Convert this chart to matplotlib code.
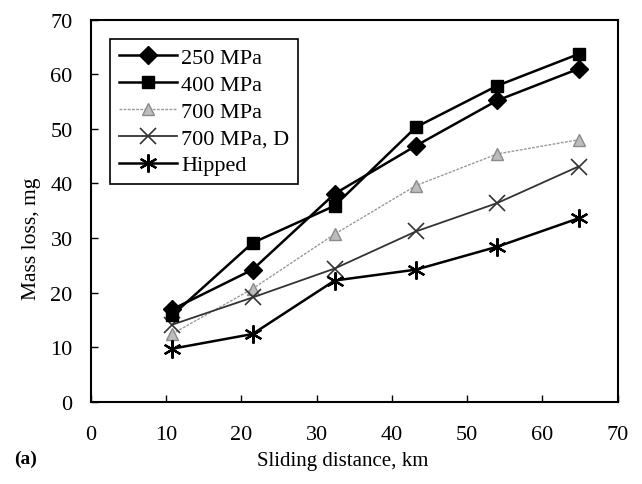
import matplotlib
matplotlib.use("Agg")
import matplotlib.pyplot as plt

distance = [10.8, 21.5, 32.4, 43.2, 54.0, 64.8]
mpa250 = [16.9, 24.2, 38.1, 46.9, 55.2, 61.0]
mpa400 = [15.8, 29.1, 35.9, 50.3, 57.9, 63.7]
mpa700 = [12.4, 20.7, 30.7, 39.6, 45.4, 48.0]
mpa700d = [14.1, 19.1, 24.4, 31.2, 36.4, 43.1]
hipped = [9.7, 12.4, 22.2, 24.2, 28.4, 33.6]
labels = ["250 MPa", "400 MPa", "700 MPa", "700 MPa, D", "Hipped"]
xticks = [0, 10, 20, 30, 40, 50, 60, 70]
yticks = [0, 10, 20, 30, 40, 50, 60, 70]

plt.rcParams['font.family'] = ['Liberation Serif', 'DejaVu Serif']

fig = plt.figure(figsize=(6.42, 4.85), dpi=100)
ax = fig.add_axes([0.1413, 0.1697, 0.8208, 0.7876])

ax.plot(distance, mpa250, color='black', lw=1.8, marker='D', ms=9, mfc='black', mec='black', label=labels[0], zorder=5)
ax.plot(distance, mpa400, color='black', lw=1.8, marker='s', ms=9, mfc='black', mec='black', label=labels[1], zorder=5)
ax.plot(distance, mpa700, color='#9a9a9a', lw=1.0, ls=(0, (2, 1)), marker='^', ms=8, mfc='#bdbdbd', mec='#8a8a8a', label=labels[2], zorder=4)
ax.plot(distance, mpa700d, color='#333333', lw=1.3, marker='x', ms=11, mew=1.2, mec='#333333', label=labels[3], zorder=4)
ax.plot(distance, hipped, color='black', lw=1.8, marker=(6, 2, 0), ms=13, mew=1.6, mec='black', label=labels[4], zorder=5)

ax.set_xlim(0, 70)
ax.set_ylim(0, 70)
ax.set_xticks(xticks)
ax.set_yticks(yticks)
ax.tick_params(direction='in', length=5, width=1, labelsize=16)
ax.tick_params(axis='x', pad=17)
ax.tick_params(axis='y', pad=13)
for s in ax.spines.values():
    s.set_linewidth(1.5)

ax.set_xlabel("Sliding distance, km", fontsize=15)
ax.xaxis.set_label_coords(0.478, -0.13)
ax.set_ylabel("Mass loss, mg", fontsize=15.5)
ax.yaxis.set_label_coords(-0.095, 0.43)
fig.text(0.022, 0.052, "(a)", fontsize=14, fontweight='bold', ha='left', va='center')

leg = ax.legend(loc='upper left', bbox_to_anchor=(0.037, 0.95), fontsize=16,
                frameon=True, fancybox=False, edgecolor='black', framealpha=1,
                handlelength=2.6, handletextpad=0.2, labelspacing=0.28,
                borderpad=0.4, borderaxespad=0)
leg.get_frame().set_linewidth(1.2)

fig.savefig("out.png", dpi=100)
